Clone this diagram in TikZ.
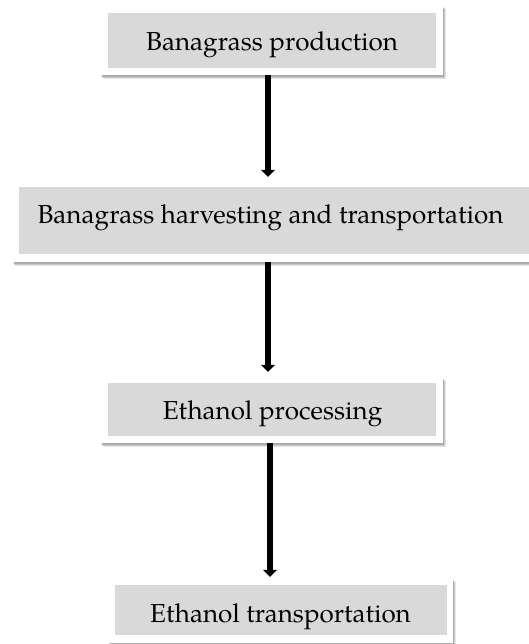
\documentclass[tikz,border=0pt]{standalone}
\usepackage{fontspec}
\setmainfont{texgyrepagella-regular.otf}
\usetikzlibrary{arrows.meta,shadows}
\definecolor{boxgray}{RGB}{217,217,217}
\tikzset{
  frame/.style={rectangle, fill=white, draw=none, inner sep=0pt,
    drop shadow={opacity=0.10, shadow xshift=3pt, shadow yshift=-4pt, fill=black},
    drop shadow={opacity=0.12, shadow xshift=2pt, shadow yshift=-3pt, fill=black},
    drop shadow={opacity=0.14, shadow xshift=1pt, shadow yshift=-2pt, fill=black}},
  graybox/.style={rectangle, fill=boxgray, draw=none, inner sep=0pt},
  lbl/.style={font=\fontsize{26}{30}\selectfont, inner sep=0pt, anchor=base},
  flow/.style={line width=6pt, -{Triangle[width=14pt,length=7pt]}}
}
\begin{document}
\begin{tikzpicture}[x=1pt,y=-1pt]
\useasboundingbox (0,0) rectangle (528,644);
% box 1
\node[frame, minimum width=343pt, minimum height=70pt] (f1) at (271.5,40) {};
\node[graybox, minimum width=328pt, minimum height=55pt] (g1) at (272,40.5) {};
\node[lbl] (t1) at (272,51) {Banagrass production};
% box 2
\node[frame, minimum width=530pt, minimum height=82pt] (f2) at (277,221) {};
\node[graybox, minimum width=516pt, minimum height=67pt] (g2) at (277,220.5) {};
\node[lbl] (t2) at (270.5,223) {Banagrass harvesting and transportation};
% box 3
\node[frame, minimum width=343pt, minimum height=66pt] (f3) at (271.5,410) {};
\node[graybox, minimum width=328pt, minimum height=53pt] (g3) at (272,409.5) {};
\node[lbl] (t3) at (272.5,419) {Ethanol processing};
% box 4
\node[frame, minimum width=345pt, minimum height=65pt] (f4) at (280.5,610.5) {};
\node[graybox, minimum width=332pt, minimum height=50pt] (g4) at (281,610) {};
\node[lbl] (t4) at (280.5,622) {Ethanol transportation};
% arrows
\draw[flow] ([xshift=-3.5pt]f1.south) -- ([xshift=-3.5pt,yshift=3pt]f1.south |- f2.north);
\draw[flow] ([xshift=-3.5pt]f1.south |- f2.south) -- ([xshift=-3.5pt,yshift=5pt]f1.south |- f3.north);
\draw[flow] ([xshift=-1.5pt]f3.south) -- ([xshift=-1.5pt,yshift=1pt]f3.south |- f4.north);
\end{tikzpicture}
\end{document}
